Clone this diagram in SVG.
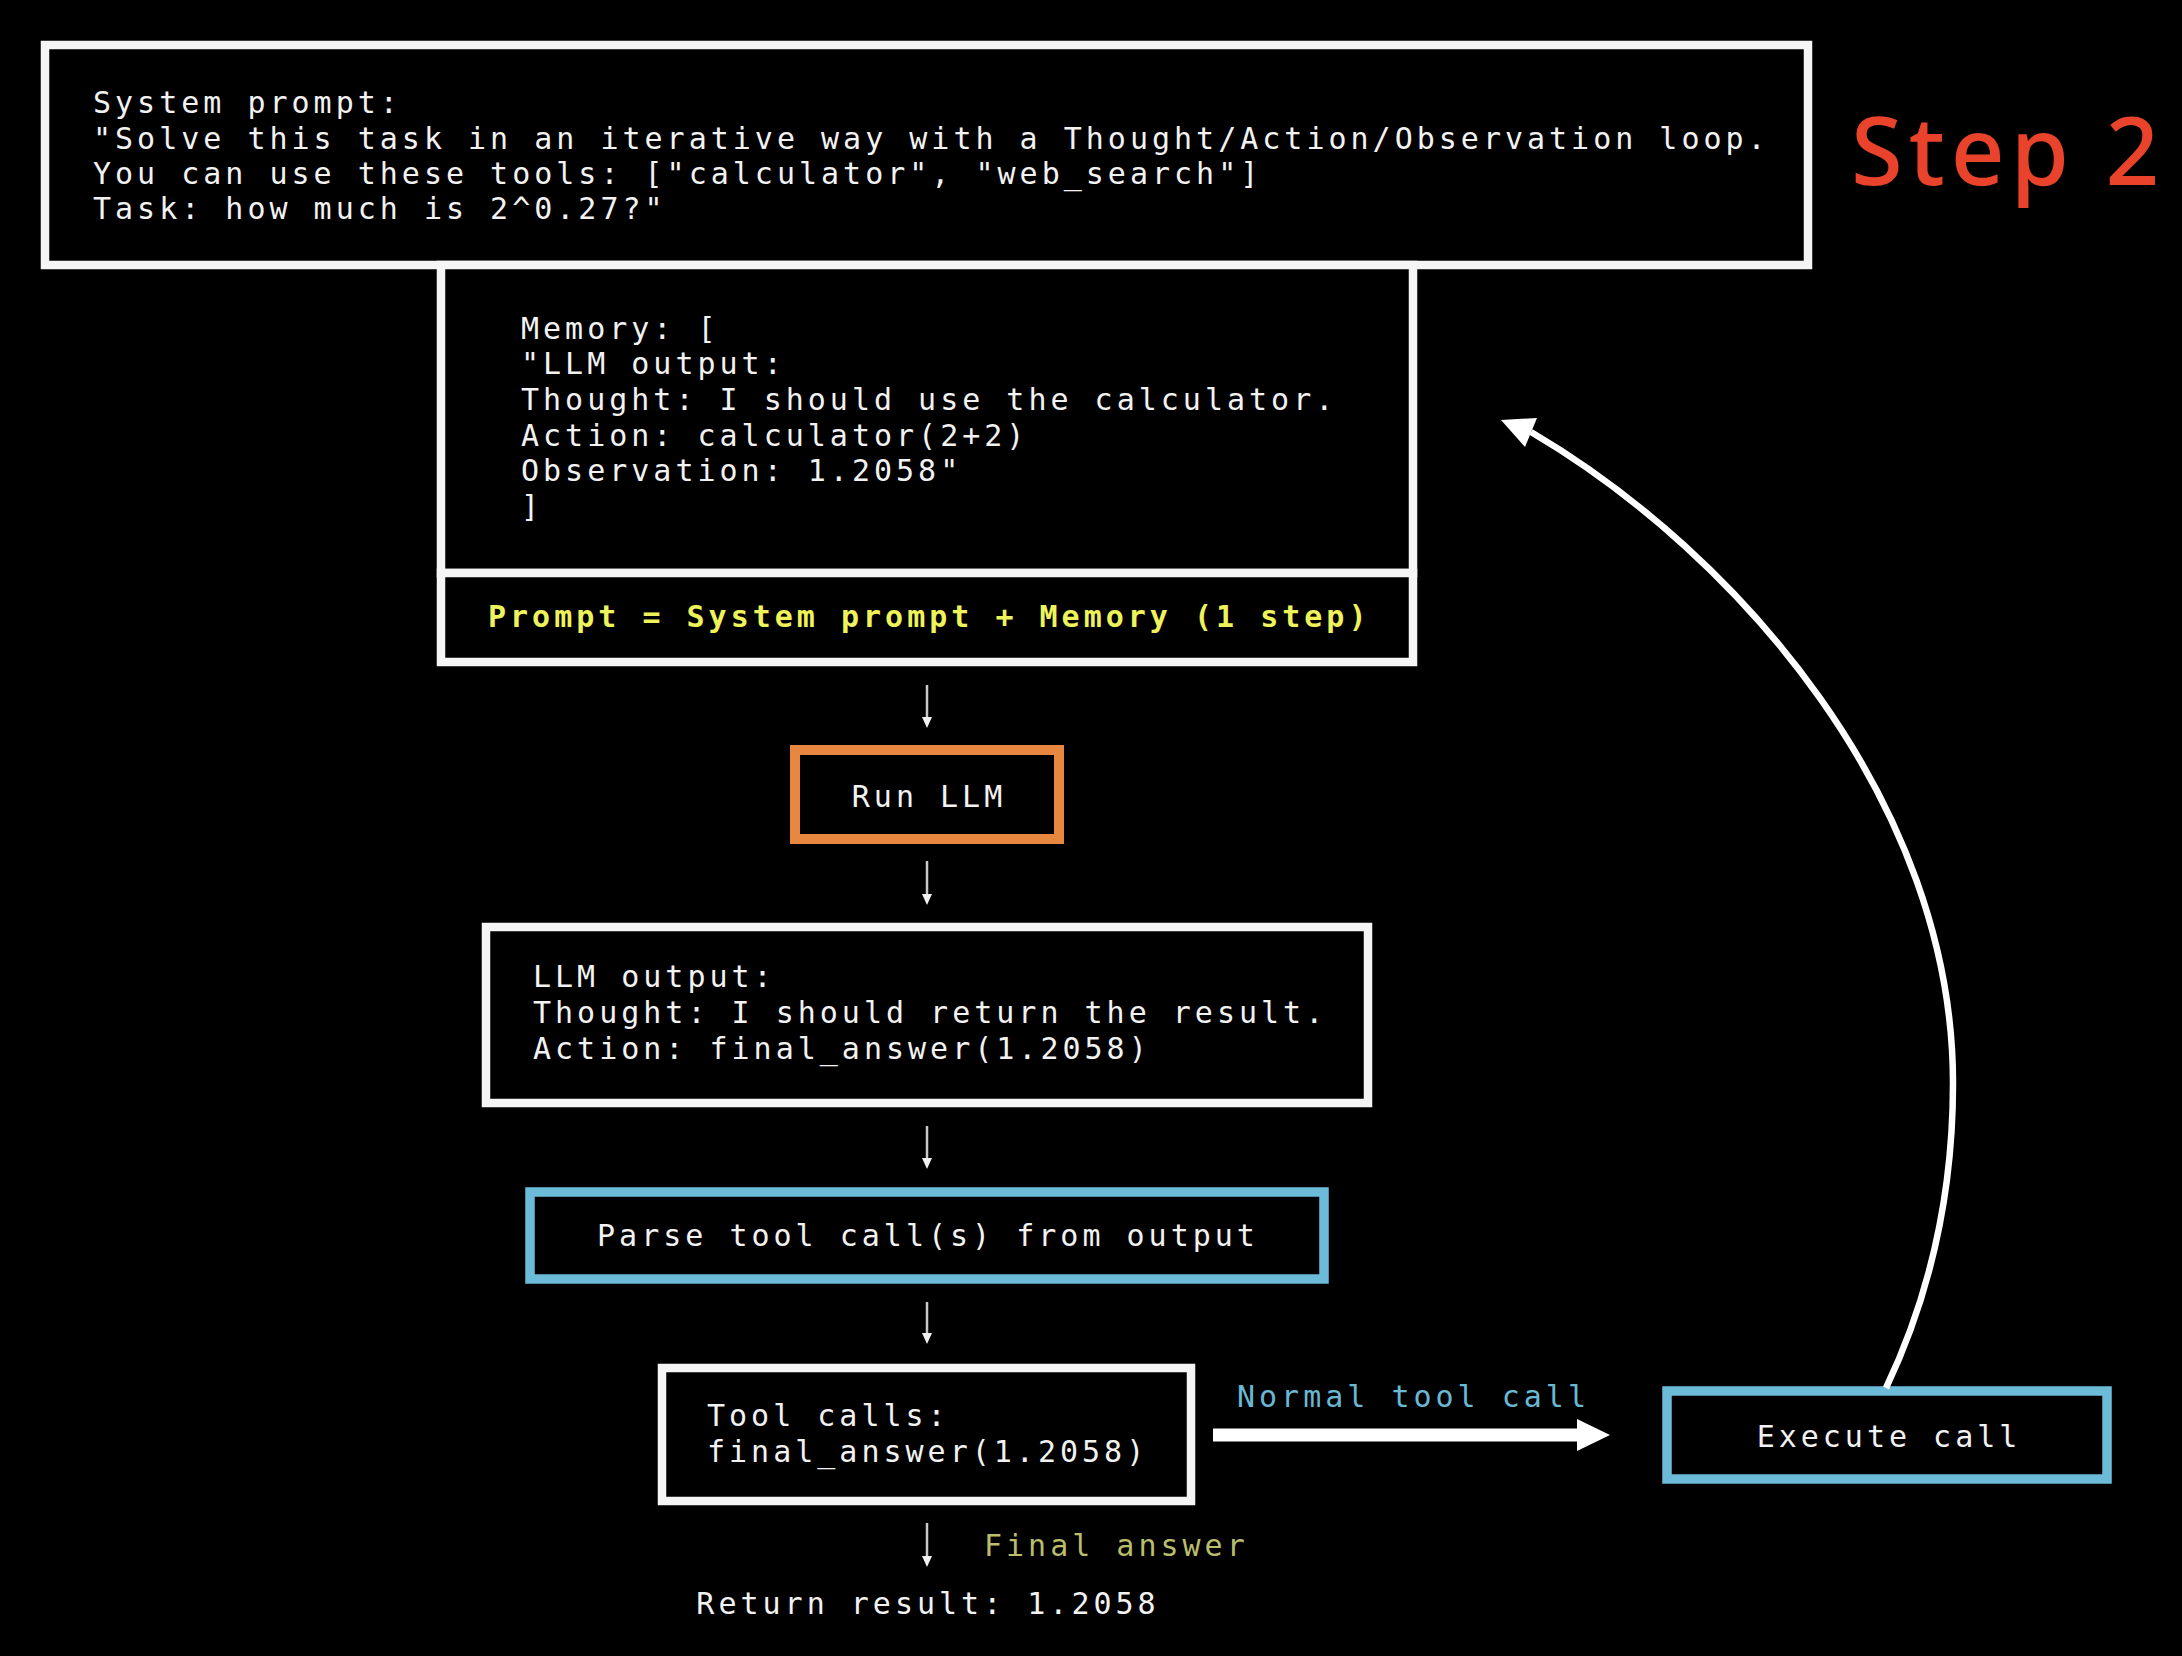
<svg xmlns="http://www.w3.org/2000/svg" width="2182" height="1656" viewBox="0 0 2182 1656">
  <defs>
    <style>
      .mono { font-family: "DejaVu Sans Mono", "Liberation Mono", monospace; font-size: 30px; letter-spacing: 4px; fill: #f2f2f2; }
      .bold { font-weight: bold; }
      .box { fill: #000; stroke: #f5f5f5; stroke-width: 8.5; }
      .orange { fill: #000; stroke: #e8873f; stroke-width: 10; }
      .blue { fill: #000; stroke: #6cbcd9; stroke-width: 9.5; }
      .thin { stroke: #c8c8c8; stroke-width: 2.5; fill: none; }
      .thinhead { fill: #f0f0f0; }
      .mid { text-anchor: middle; }
    </style>
  </defs>
  <rect x="0" y="0" width="2182" height="1656" fill="#000"/>

  <g id="system-prompt">
    <rect class="box" x="45" y="45" width="1763" height="220"/>
    <text class="mono" x="93" y="113">System prompt:</text>
    <text class="mono" x="93" y="148.5">"Solve this task in an iterative way with a Thought/Action/Observation loop.</text>
    <text class="mono" x="93" y="183.5">You can use these tools: ["calculator", "web_search"]</text>
    <text class="mono" x="93" y="219">Task: how much is 2^0.27?"</text>
  </g>

  <g id="memory">
    <rect class="box" x="441" y="265" width="972" height="308"/>
    <text class="mono" x="521" y="338.5">Memory: [</text>
    <text class="mono" x="521" y="374">"LLM output:</text>
    <text class="mono" x="521" y="410">Thought: I should use the calculator.</text>
    <text class="mono" x="521" y="445.5">Action: calculator(2+2)</text>
    <text class="mono" x="521" y="481">Observation: 1.2058"</text>
    <text class="mono" x="521" y="516.5">]</text>
  </g>

  <g id="prompt">
    <rect class="box" x="441" y="573" width="972" height="89"/>
    <text class="mono bold" x="488" y="627" style="fill:#eef35c">Prompt = System prompt + Memory (1 step)</text>
  </g>

  <g id="run-llm">
    <rect class="orange" x="795" y="750" width="264" height="89"/>
    <text class="mono mid" x="929" y="807">Run LLM</text>
  </g>

  <g id="llm-output">
    <rect class="box" x="486" y="927" width="882" height="176"/>
    <text class="mono" x="533" y="987">LLM output:</text>
    <text class="mono" x="533" y="1023">Thought: I should return the result.</text>
    <text class="mono" x="533" y="1059">Action: final_answer(1.2058)</text>
  </g>

  <g id="parse">
    <rect class="blue" x="530" y="1192" width="794" height="87"/>
    <text class="mono mid" x="928" y="1246">Parse tool call(s) from output</text>
  </g>

  <g id="tool-calls">
    <rect class="box" x="662" y="1368" width="529" height="133"/>
    <text class="mono" x="707" y="1426">Tool calls:</text>
    <text class="mono" x="707" y="1462">final_answer(1.2058)</text>
  </g>

  <g id="execute-call">
    <rect class="blue" x="1667" y="1391" width="440" height="88"/>
    <text class="mono mid" x="1889" y="1447">Execute call</text>
  </g>

  <g id="return-result">
    <text class="mono mid" x="928" y="1614">Return result: 1.2058</text>
  </g>

  <g id="step-label">
    <text x="1851" y="185" style="font-family:'Noto Sans', 'DejaVu Sans', sans-serif; font-size:94px; font-weight:500; fill:#e9432b; letter-spacing:6px">Step 2</text>
  </g>

  <g id="connectors">
    <line class="thin" x1="927" y1="685" x2="927" y2="719"/>
    <polygon class="thinhead" points="922,717 932,717 927,728"/>
    <line class="thin" x1="927" y1="861" x2="927" y2="896"/>
    <polygon class="thinhead" points="922,894 932,894 927,905"/>
    <line class="thin" x1="927" y1="1126" x2="927" y2="1160"/>
    <polygon class="thinhead" points="922,1158 932,1158 927,1169"/>
    <line class="thin" x1="927" y1="1302" x2="927" y2="1335"/>
    <polygon class="thinhead" points="922,1333 932,1333 927,1344"/>
    <line class="thin" x1="927" y1="1523" x2="927" y2="1558"/>
    <polygon class="thinhead" points="922,1556 932,1556 927,1567"/>

    <line x1="1213" y1="1435" x2="1580" y2="1435" stroke="#fff" stroke-width="13"/>
    <polygon points="1577,1419 1610,1435 1577,1451" fill="#fff"/>
    <text class="mono" x="1237" y="1407" style="fill:#6ab8d4">Normal tool call</text>

    <path d="M1886,1388 C1935,1285 1953,1180 1953,1083 C1953,803 1740,555 1531,432" fill="none" stroke="#fff" stroke-width="6.5"/>
    <polygon points="1501,420 1537,418 1525,447" fill="#fff"/>

    <text class="mono" x="984" y="1556" style="fill:#b9bd6c">Final answer</text>
  </g>
</svg>
